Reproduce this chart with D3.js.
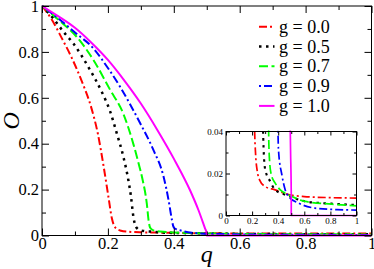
<!DOCTYPE html>
<html><head><meta charset="utf-8">
<script src="https://cdn.jsdelivr.net/npm/d3@7"></script>
<style>body{margin:0;background:#fff} svg{display:block} text{font-family:"Liberation Serif","Times New Roman","DejaVu Serif",serif}</style>
</head><body><svg id="c" width="374" height="269"></svg>
<script>
// ---- data ----
const qG00 = [0,0.03,0.06,0.09,0.12,0.15,0.17,0.186,0.202,0.212,0.219,0.227,0.24,0.257,0.3,0.377,0.45,0.52,0.6,0.8,1];
const oG00 = [1,0.94,0.86,0.775,0.675,0.555,0.44,0.31,0.165,0.075,0.042,0.029,0.021,0.017,0.0138,0.0122,0.0105,0.0095,0.009,0.0085,0.0083];
const qG05 = [0,0.034,0.065,0.095,0.146,0.181,0.207,0.227,0.247,0.262,0.27,0.277,0.283,0.288,0.3,0.339,0.377,0.454,0.5,0.607,0.734,0.85,1];
const oG05 = [1,0.946,0.888,0.837,0.721,0.627,0.54,0.445,0.343,0.242,0.17,0.085,0.045,0.032,0.022,0.0162,0.0122,0.0099,0.0088,0.0067,0.0059,0.0055,0.005];
const qG07 = [0,0.05,0.105,0.156,0.207,0.247,0.278,0.293,0.305,0.318,0.324,0.328,0.335,0.345,0.377,0.416,0.48,0.607,0.811,1];
const oG07 = [1,0.94,0.866,0.765,0.634,0.53,0.395,0.315,0.245,0.14,0.06,0.035,0.025,0.02,0.0154,0.0122,0.0099,0.0067,0.0054,0.0046];
const qG09 = [0,0.05,0.1,0.156,0.2,0.237,0.268,0.298,0.338,0.369,0.384,0.394,0.398,0.403,0.428,0.454,0.48,0.556,0.683,0.85,1];
const oG09 = [1,0.945,0.885,0.815,0.73,0.648,0.57,0.489,0.373,0.256,0.155,0.07,0.042,0.0305,0.0194,0.0122,0.009,0.0059,0.0035,0.0028,0.0026];
const qG10 = [0,0.05,0.1,0.15,0.2,0.25,0.3,0.35,0.4,0.45,0.475,0.495,0.5,0.5,1];
const oG10 = [1,0.955,0.905,0.84,0.765,0.675,0.575,0.46,0.335,0.195,0.11,0.03,0.01,0,0];

const seriesNames = ["g = 0.0","g = 0.5","g = 0.7","g = 0.9","g = 1.0"];
const xTicksMain = [0,0.2,0.4,0.6,0.8,1];
const yTicksMain = [0,0.2,0.4,0.6,0.8,1];
const xTicksInset = [0,0.2,0.4,0.6,0.8,1];
const yTicksInset = [0,0.02,0.04];

// ---- styles ----
const series = [
  {q:qG00, o:oG00, color:"#ff0000", dash:"8,3,2,3", w:2},
  {q:qG05, o:oG05, color:"#000000", dash:"2.5,4.5", w:2.5},
  {q:qG07, o:oG07, color:"#00ff00", dash:"9,3.5", w:2},
  {q:qG09, o:oG09, color:"#0000ff", dash:"2,3,8,3", w:2},
  {q:qG10, o:oG10, color:"#ff00ff", dash:null, w:2}
];
const FONT = "Liberation Serif, Times New Roman, DejaVu Serif, serif";
const svg = d3.select("#c");

function drawAxes(g, x, y, xt, yt, xminor, yminor, major, minor, fs, fmtX, fmtY, padX, padY) {
  const [x0,x1] = x.range(), [y0,y1] = y.range();
  const style = sel => { sel.attr("font-family",FONT); sel.select(".domain").remove(); sel.selectAll("text").attr("font-size",fs).attr("fill","#000"); sel.selectAll("line").attr("stroke","#000"); };
  g.append("g").attr("transform",`translate(0,${y0})`).call(d3.axisBottom(x).tickValues(xt).tickSize(-major).tickPadding(padX).tickFormat(fmtX)).call(style);
  g.append("g").attr("transform",`translate(0,${y0})`).call(d3.axisBottom(x).tickValues(xminor).tickSize(-minor).tickFormat("")).call(style);
  g.append("g").attr("transform",`translate(0,${y1})`).call(d3.axisTop(x).tickValues(xt).tickSize(-major).tickFormat("")).call(style);
  g.append("g").attr("transform",`translate(0,${y1})`).call(d3.axisTop(x).tickValues(xminor).tickSize(-minor).tickFormat("")).call(style);
  g.append("g").attr("transform",`translate(${x0},0)`).call(d3.axisLeft(y).tickValues(yt).tickSize(-major).tickPadding(padY).tickFormat(fmtY)).call(style);
  g.append("g").attr("transform",`translate(${x0},0)`).call(d3.axisLeft(y).tickValues(yminor).tickSize(-minor).tickFormat("")).call(style);
  g.append("g").attr("transform",`translate(${x1},0)`).call(d3.axisRight(y).tickValues(yt).tickSize(-major).tickFormat("")).call(style);
  g.append("g").attr("transform",`translate(${x1},0)`).call(d3.axisRight(y).tickValues(yminor).tickSize(-minor).tickFormat("")).call(style);
  g.append("rect").attr("x",x0).attr("y",y1).attr("width",x1-x0).attr("height",y0-y1).attr("fill","none").attr("stroke","#000").attr("stroke-width",1);
}

function drawCurves(g, x, y, clipId, wScale) {
  const [x0,x1] = x.range(), [y0,y1] = y.range();
  svg.append("defs").append("clipPath").attr("id",clipId).append("rect").attr("x",x0).attr("y",y1-1).attr("width",x1-x0).attr("height",y0-y1+3);
  const cg = g.append("g").attr("clip-path",`url(#${clipId})`);
  series.forEach(s => {
    const pts = s.q.map((q,i)=>[q,s.o[i]]);
    const line = d3.line().x(d=>x(d[0])).y(d=>y(d[1])).curve(d3.curveMonotoneX);
    cg.append("path").attr("d",line(pts)).attr("fill","none").attr("stroke",s.color)
      .attr("stroke-width",s.w*wScale).attr("stroke-dasharray",s.dash).attr("stroke-linejoin","round");
  });
}

// ---- main plot ----
const x = d3.scaleLinear().domain([0,1]).range([42,371.5]);
const y = d3.scaleLinear().domain([0,1]).range([235.5,6]);
const gMain = svg.append("g");
const fmtMain = d => d===0||d===1 ? String(d) : d3.format(".1f")(d);
drawCurves(gMain, x, y, "clipMain", 1);
drawAxes(gMain, x, y, xTicksMain, yTicksMain, d3.range(0.1,1,0.2), d3.range(0.1,1,0.2), 7, 4, 16.5, fmtMain, fmtMain, 2, 3);

gMain.append("text").attr("x",x(0.5)).attr("y",262).attr("text-anchor","middle")
  .attr("font-family",FONT).attr("font-style","italic").attr("font-size",24).text("q");
gMain.append("text").attr("transform",`translate(19,${y(0.5)}) rotate(-90)`).attr("text-anchor","middle")
  .attr("font-family",FONT).attr("font-style","italic").attr("font-size",24).text("O");

// ---- legend ----
const lg = svg.append("g");
seriesNames.forEach((name,i) => {
  const s = series[i], yy = 26.7 + i*19.8;
  lg.append("line").attr("x1",259).attr("x2",274.5).attr("y1",yy).attr("y2",yy)
    .attr("stroke",s.color).attr("stroke-width",s.w).attr("stroke-dasharray",s.dash);
  lg.append("text").attr("x",279).attr("y",yy+6).attr("font-family",FONT).attr("font-size",18).text(name);
});

// ---- inset ----
const xi = d3.scaleLinear().domain([0,1]).range([226,356.5]);
const yi = d3.scaleLinear().domain([0,0.04]).range([215.5,131.5]);
const gIn = svg.append("g");
gIn.append("rect").attr("x",226).attr("y",131.5).attr("width",130.5).attr("height",84).attr("fill","#fff");
drawCurves(gIn, xi, yi, "clipInset", 0.85);
drawAxes(gIn, xi, yi, xTicksInset, yTicksInset, d3.range(0.1,1,0.2), [0.01,0.03], 4, 2.5, 9,
  d => d===0||d===1 ? String(d) : d3.format(".1f")(d), d => d===0 ? "0" : d3.format(".2f")(d), 2, 3);
</script></body></html>
